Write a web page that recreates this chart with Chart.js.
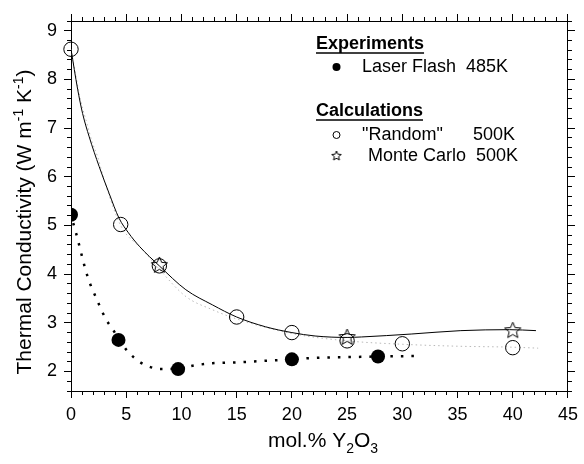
<!DOCTYPE html>
<html>
<head>
<meta charset="utf-8">
<script src="https://cdn.jsdelivr.net/npm/chart.js@4"></script>
<style>
  html, body { margin: 0; padding: 0; background: #fff; }
  #wrap { width: 584px; height: 464px; }
</style>
</head>
<body>
<div id="wrap"><canvas id="c" width="584" height="464"></canvas></div>
<script>
// ---- data ----
const flashX = [0, 4.3, 9.7, 20, 27.8];
const flashY = [5.22, 2.65, 2.05, 2.25, 2.31];

const randomX = [0, 4.5, 8, 15, 20, 25, 30, 40];
const randomY = [8.62, 5.02, 4.17, 3.12, 2.8, 2.63, 2.57, 2.49];

const monteX = [8, 25, 40];
const monteY = [4.2, 2.72, 2.86];

// dotted black fit through experiments (traced)
const flashFitX = [0.2, 0.45, 1.5, 2.3, 3.15, 3.8, 4.3, 5.15, 6.2, 7.1, 8.0, 9.7, 11.3, 12.8, 15.2, 17.6, 20, 22, 26, 28, 31.5];
const flashFitY = [5.05, 4.85, 3.95, 3.5, 3.08, 2.86, 2.68, 2.41, 2.2, 2.1, 2.05, 2.06, 2.13, 2.17, 2.19, 2.22, 2.25, 2.28, 2.30, 2.31, 2.32];

// solid black fit (traced)
const solidFitX = [0, 0.6, 1.05, 1.65, 2.55, 3.45, 4.35, 5.2, 6.2, 8, 10.4, 12.8, 15, 17.6, 20, 22.1, 25, 26.3, 30.8, 35.3, 39.7, 42.1];
const solidFitY = [8.62, 7.8, 7.3, 6.82, 6.21, 5.66, 5.15, 4.85, 4.57, 4.17, 3.68, 3.37, 3.12, 2.92, 2.8, 2.73, 2.70, 2.71, 2.77, 2.84, 2.86, 2.84];

// faint grey dotted fit (traced)
const greyFitX = [0, 0.9, 1.35, 1.95, 2.4, 3.0, 4.5, 6.5, 8, 10.4, 12.8, 15, 20, 25, 30, 35, 40, 42.3];
const greyFitY = [8.62, 7.54, 7.17, 6.69, 6.42, 5.94, 5.0, 4.5, 4.1, 3.54, 3.27, 3.08, 2.78, 2.63, 2.56, 2.52, 2.5, 2.48];

const xTicksMajor = [0, 5, 10, 15, 20, 25, 30, 35, 40, 45];
const yTicksMajor = [2, 3, 4, 5, 6, 7, 8, 9];
const xMinorStep = 1;
const yMinorStep = 0.2;

const xTitle = ['mol.% Y', '2', 'O', '3'];
const yTitle = ['Thermal Conductivity (W m', '-1', ' K', '-1', ')'];
const legendHeads = ['Experiments', 'Calculations'];
const legendItems = ['Laser Flash  485K', '"Random"', '500K', 'Monte Carlo  500K'];

// ---- helpers ----
const pts = (xs, ys) => xs.map((x, i) => ({x: x, y: ys[i]}));
const FONT = '"Liberation Sans", Arial, Helvetica, sans-serif';

function makeStar(r, lw) {
  const s = Math.ceil(r * 2 + 4);
  const cv = document.createElement('canvas');
  cv.width = s; cv.height = s;
  const g = cv.getContext('2d');
  g.strokeStyle = '#000'; g.lineWidth = lw;
  g.beginPath();
  for (let i = 0; i < 10; i++) {
    const rr = i % 2 === 0 ? r : r * 0.45;
    const a = -Math.PI / 2 + i * Math.PI / 5;
    const px = s / 2 + rr * Math.cos(a), py = s / 2 + 1 + rr * Math.sin(a);
    i === 0 ? g.moveTo(px, py) : g.lineTo(px, py);
  }
  g.closePath(); g.stroke();
  return cv;
}
const starBig = makeStar(8.5, 1);
const starSmall = makeStar(5, 1);

const W = 71, H = 73, TOP = 21, RIGHT = 12;

function fixW(w) { return s => { s.width = w; }; }
function fixH(h) { return s => { s.height = h; }; }
function minorTicks(step) {
  return s => {
    const out = [];
    const n = Math.round((s.max - s.min) / step);
    for (let i = 0; i <= n; i++) out.push({value: +(s.min + i * step).toFixed(6)});
    s.ticks = out;
  };
}
function majorTicks(list) { return s => { s.ticks = list.map(v => ({value: v})); }; }

const axisColor = '#000';
function baseX(extra) {
  return Object.assign({
    type: 'linear', min: 0, max: 45,
    border: {display: true, color: axisColor, width: 1},
  }, extra);
}
function baseY(extra) {
  return Object.assign({
    type: 'linear', min: 1.6, max: 9.2,
    border: {display: true, color: axisColor, width: 1},
  }, extra);
}
function gridOpts(len) {
  return {drawOnChartArea: false, drawTicks: true, tickLength: len, color: axisColor, tickColor: axisColor, tickWidth: 1};
}

const titlesAndLegend = {
  id: 'titlesAndLegend',
  afterDraw(chart) {
    const ctx = chart.ctx;
    ctx.save();
    ctx.fillStyle = '#000';
    ctx.strokeStyle = '#000';
    ctx.textBaseline = 'alphabetic';
    ctx.textAlign = 'left';

    // X title with subscripts
    const big = '21px ' + FONT, small = '14px ' + FONT;
    const xs = [[xTitle[0], big, 0], [xTitle[1], small, 6], [xTitle[2], big, 0], [xTitle[3], small, 6]];
    let tw = 0;
    xs.forEach(p => { ctx.font = p[1]; tw += ctx.measureText(p[0]).width; });
    let cx = 323 - tw / 2;
    xs.forEach(p => { ctx.font = p[1]; ctx.fillText(p[0], cx, 447 + p[2]); cx += ctx.measureText(p[0]).width; });

    // Y title with superscripts, rotated
    const ys = [[yTitle[0], big, 0], [yTitle[1], small, -8], [yTitle[2], big, 0], [yTitle[3], small, -8], [yTitle[4], big, 0]];
    tw = 0;
    ys.forEach(p => { ctx.font = p[1]; tw += ctx.measureText(p[0]).width; });
    ctx.save();
    ctx.translate(31, 222);
    ctx.rotate(-Math.PI / 2);
    cx = -tw / 2;
    ys.forEach(p => { ctx.font = p[1]; ctx.fillText(p[0], cx, p[2]); cx += ctx.measureText(p[0]).width; });
    ctx.restore();

    // Legend
    ctx.textBaseline = 'middle';
    const bold = 'bold 18px ' + FONT, reg = '18px ' + FONT;
    [[legendHeads[0], 44], [legendHeads[1], 111]].forEach(h => {
      ctx.font = bold;
      ctx.fillText(h[0], 316, h[1]);
      const w = ctx.measureText(h[0]).width;
      ctx.lineWidth = 1.5;
      ctx.beginPath(); ctx.moveTo(316, h[1] + 9); ctx.lineTo(316 + w, h[1] + 9); ctx.stroke();
    });
    ctx.font = reg;
    ctx.beginPath(); ctx.arc(336.5, 67, 4, 0, Math.PI * 2); ctx.fill();
    ctx.fillText(legendItems[0], 362, 67);
    ctx.lineWidth = 1;
    ctx.beginPath(); ctx.arc(336.5, 135, 3.5, 0, Math.PI * 2); ctx.stroke();
    ctx.fillText(legendItems[1], 362, 135);
    ctx.fillText(legendItems[2], 473, 135);
    ctx.drawImage(starSmall, 336.5 - starSmall.width / 2, 155 - starSmall.height / 2);
    ctx.fillText(legendItems[3], 368, 156);
    ctx.restore();
  }
};

new Chart(document.getElementById('c'), {
  type: 'scatter',
  data: {
    datasets: [
      {label: 'grey fit', data: pts(greyFitX, greyFitY), showLine: true, pointRadius: 0,
       borderColor: '#b8b8b8', borderWidth: 1, borderDash: [1.5, 3], cubicInterpolationMode: 'monotone', order: 6},
      {label: 'solid fit', data: pts(solidFitX, solidFitY), showLine: true, pointRadius: 0,
       borderColor: '#000', borderWidth: 1, cubicInterpolationMode: 'monotone', order: 5},
      {label: 'flash fit', data: pts(flashFitX, flashFitY), showLine: true, pointRadius: 0,
       borderColor: '#000', borderWidth: 2.5, borderDash: [2.5, 8], cubicInterpolationMode: 'monotone', order: 4},
      {label: '"Random" 500K', data: pts(randomX, randomY), showLine: false, pointRadius: 7.2,
       pointBackgroundColor: 'rgba(0,0,0,0)', pointBorderColor: '#000', pointBorderWidth: 1, order: 3, clip: 8},
      {label: 'Monte Carlo 500K', data: pts(monteX, monteY), showLine: false, pointStyle: starBig, pointRadius: 9,
       order: 2},
      {label: 'Laser Flash 485K', data: pts(flashX, flashY), showLine: false, pointRadius: 7,
       pointBackgroundColor: '#000', pointBorderColor: '#000', pointBorderWidth: 0, order: 1, clip: 0},
    ]
  },
  options: {
    responsive: false,
    animation: false,
    events: [],
    layout: {padding: 0},
    plugins: {legend: {display: false}, tooltip: {enabled: false}},
    scales: {
      xMinor: baseX({position: 'bottom', weight: 0, afterFit: fixH(0), afterBuildTicks: minorTicks(xMinorStep),
        ticks: {display: false}, grid: gridOpts(4)}),
      x: baseX({position: 'bottom', weight: 1, afterFit: fixH(H), afterBuildTicks: majorTicks(xTicksMajor),
        ticks: {display: true, color: '#000', font: {family: FONT, size: 18}, padding: 6, maxRotation: 0, autoSkip: false},
        grid: gridOpts(7)}),
      xTopMinor: baseX({position: 'top', weight: 0, afterFit: fixH(0), afterBuildTicks: minorTicks(xMinorStep),
        ticks: {display: false}, grid: gridOpts(4)}),
      xTop: baseX({position: 'top', weight: 1, afterFit: fixH(TOP), afterBuildTicks: majorTicks(xTicksMajor),
        ticks: {display: false}, grid: gridOpts(7)}),
      yMinor: baseY({position: 'left', weight: 0, afterFit: fixW(0), afterBuildTicks: minorTicks(yMinorStep),
        ticks: {display: false}, grid: gridOpts(4)}),
      y: baseY({position: 'left', weight: 1, afterFit: fixW(W), afterBuildTicks: majorTicks(yTicksMajor),
        ticks: {display: true, color: '#000', font: {family: FONT, size: 18}, padding: 7, autoSkip: false},
        grid: gridOpts(7)}),
      yRightMinor: baseY({position: 'right', weight: 0, afterFit: fixW(0), afterBuildTicks: minorTicks(yMinorStep),
        ticks: {display: false}, grid: gridOpts(4)}),
      yRight: baseY({position: 'right', weight: 1, afterFit: fixW(RIGHT), afterBuildTicks: majorTicks(yTicksMajor),
        ticks: {display: false}, grid: gridOpts(7)}),
    }
  },
  plugins: [titlesAndLegend]
});
</script>
</body>
</html>
